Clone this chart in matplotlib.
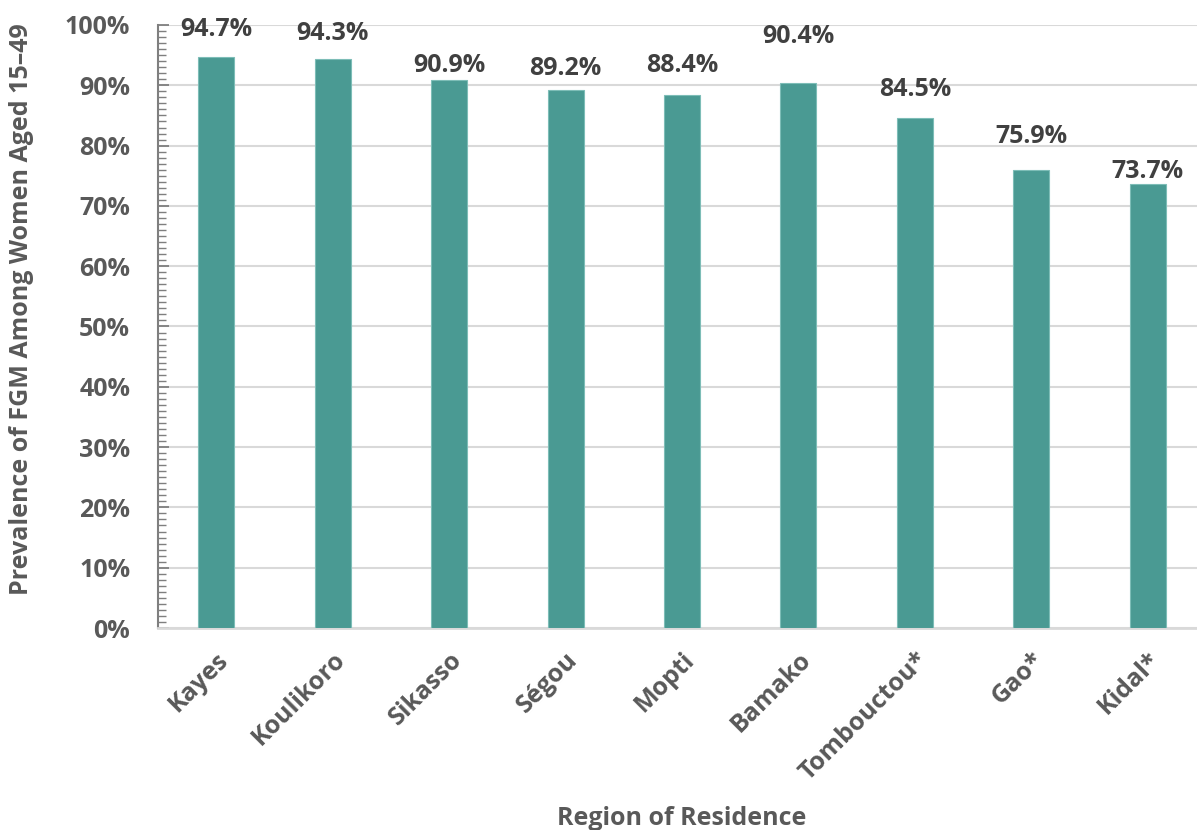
import matplotlib.pyplot as plt
from matplotlib.ticker import MultipleLocator, PercentFormatter

regions = ['Kayes', 'Koulikoro', 'Sikasso', 'Ségou', 'Mopti', 'Bamako',
           'Tombouctou*', 'Gao*', 'Kidal*']
prevalence = [94.7, 94.3, 90.9, 89.2, 88.4, 90.4, 84.5, 75.9, 73.7]

# label lift above each bar, in pixels (labels were nudged by hand)
label_lift = [27, 26, 14, 22, 29, 46, 29, 34, 12]

bar_color = '#4A9A93'
text_color = '#595959'
value_color = '#404040'
grid_color = '#D9D9D9'

plt.rcParams['font.family'] = ['Open Sans', 'DejaVu Sans']
plt.rcParams['font.weight'] = 'bold'

fig = plt.figure(figsize=(11.97, 8.30), dpi=100)
ax = fig.add_axes([158 / 1197, 1 - 628 / 830, 1048 / 1197, 603 / 830])

x = range(len(regions))
bars = ax.bar(x, prevalence, width=0.31, color=bar_color,
              edgecolor='#7DBDB7', linewidth=0.8, zorder=3)

for bar, val, lift in zip(bars, prevalence, label_lift):
    ax.annotate(f'{val:.1f}%', (bar.get_x() + bar.get_width() / 2, val),
                xytext=(0, lift), textcoords='offset pixels',
                ha='center', va='center', fontsize=18, fontweight='bold',
                color=value_color, zorder=4)

ax.set_xlim(-0.5, len(regions) - 0.5)
ax.set_ylim(0, 100)
ax.yaxis.set_major_locator(MultipleLocator(10))
ax.yaxis.set_minor_locator(MultipleLocator(1))
ax.yaxis.set_major_formatter(PercentFormatter(decimals=0))
ax.grid(axis='y', color=grid_color, linewidth=1.5, zorder=0)

for side in ['top', 'right']:
    ax.spines[side].set_visible(False)
ax.spines['left'].set_color('#7F7F7F')
ax.spines['left'].set_linewidth(1.5)
ax.spines['bottom'].set_color(grid_color)
ax.spines['bottom'].set_linewidth(2)

ax.tick_params(axis='y', which='major', direction='in', length=8, width=1.3,
               color='#7F7F7F', labelsize=18, labelcolor=text_color, pad=20)
ax.tick_params(axis='y', which='minor', direction='in', length=6, width=1.0,
               color='#7F7F7F')
ax.tick_params(axis='x', length=0, pad=14)

ax.set_xticks(list(x))
ax.set_xticklabels(regions, rotation=45, ha='right', rotation_mode='anchor',
                   fontsize=18, fontweight='bold', color=text_color)

ax.set_ylabel('Prevalence of FGM Among Women Aged 15–49', fontsize=18,
              fontweight='bold', color=text_color, va='center')
ax.yaxis.set_label_coords(-0.13, 0.529)
fig.text(682 / 1197, 1 - 818 / 830, 'Region of Residence', ha='center',
         va='center', fontsize=18, fontweight='bold', color=text_color)

fig.savefig('out.png', dpi=100)
